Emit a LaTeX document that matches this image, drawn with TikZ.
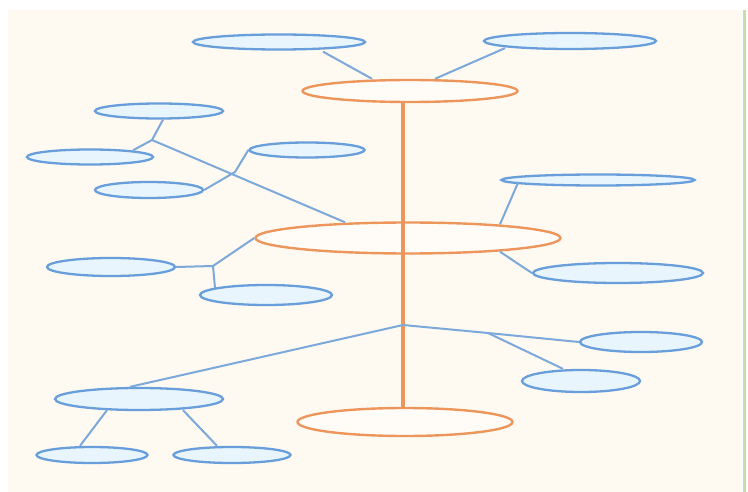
\documentclass[tikz,border=0pt]{standalone}
\usetikzlibrary{shapes.geometric,calc}
\definecolor{cream}{RGB}{254,250,242}
\definecolor{edgegreen}{RGB}{196,224,170}
\definecolor{orng}{RGB}{236,150,92}
\definecolor{ofill}{RGB}{255,252,247}
\definecolor{bline}{RGB}{104,158,218}
\definecolor{bfill}{RGB}{232,245,252}
\definecolor{bconn}{RGB}{124,168,218}
\begin{document}
\begin{tikzpicture}[x=1pt,y=-1pt,
  bnode/.style={ellipse, draw=bline, line width=2.3pt, fill=bfill, inner sep=0pt},
  onode/.style={ellipse, draw=orng, line width=2.4pt, fill=ofill, inner sep=0pt},
  conn/.style={draw=bconn, line width=2pt, line join=round},
  spine/.style={draw=orng, line width=3.6pt}]
\useasboundingbox (0,0) rectangle (748,492);
\fill[white] (0,0) rectangle (748,492);
\fill[cream] (8,10) rectangle (742,492);
\fill[edgegreen] (743,10) rectangle (746,492);

% orange ellipses
\node[onode, minimum width=215, minimum height=22] (O1) at (410,91) {};
\node[onode, minimum width=305, minimum height=31] (O2) at (408,238) {};
\node[onode, minimum width=215, minimum height=28] (O3) at (405,422) {};

% blue ellipses
\node[bnode, minimum width=172, minimum height=15] (B1) at (279,42) {};
\node[bnode, minimum width=172, minimum height=16] (B2) at (570,41) {};
\node[bnode, minimum width=128, minimum height=15] (B3) at (159,111) {};
\node[bnode, minimum width=126, minimum height=15] (B4) at (90,157) {};
\node[bnode, minimum width=115, minimum height=15] (B5) at (307,150) {};
\node[bnode, minimum width=108, minimum height=16] (B6) at (149,190) {};
\node[bnode, minimum width=193, minimum height=11] (B7) at (598,180) {};
\node[bnode, minimum width=128, minimum height=18] (B8) at (111,267) {};
\node[bnode, minimum width=132, minimum height=20] (B9) at (266,295) {};
\node[bnode, minimum width=170, minimum height=20] (B10) at (618,273) {};
\node[bnode, minimum width=122, minimum height=20] (B11) at (641,342) {};
\node[bnode, minimum width=118, minimum height=22] (B12) at (581,381) {};
\node[bnode, minimum width=168, minimum height=22] (B13) at (139,399) {};
\node[bnode, minimum width=111, minimum height=16] (B14) at (92,455) {};
\node[bnode, minimum width=117, minimum height=16] (B15) at (232,455) {};

% junction coordinates
\coordinate (J1) at (152,140);
\coordinate (J2) at (235,172);
\coordinate (J3) at (213,266);
\coordinate (J) at (403,325);
\coordinate (K) at (488,333);

% orange spine
\draw[spine] ($(O1.south)+(-7,0)$) -- ($(O3.north)+(-2,0)$);

% blue connectors
\draw[conn] ($(B1.south)+(44,1)$) -- ($(O1.north)+(-38,0)$);
\draw[conn] ($(B2.south)+(-65,-2)$) -- ($(O1.north)+(25,0)$);
\draw[conn] ($(B3.south)+(4,0)$) -- (J1) -- ($(B4.north)+(43,2)$);
\draw[conn] (J1) -- ($(O2.north)+(-63,1)$);
\draw[conn] (B5.west) -- (J2) -- (B6.east);
\draw[conn] ($(B7.west)+(18,2)$) -- ($(O2.north)+(92,3)$);
\draw[conn] ($(O2.south)+(92,-3)$) -- (B10.west);
\draw[conn] (B8.east) -- (J3) -- (O2.west);
\draw[conn] (J3) -- ($(B9.north)+(-51,4)$);
\draw[conn] (J) -- ($(B13.north)+(-9,0)$);
\draw[conn] (J) -- (K) -- (B11.west);
\draw[conn] (K) -- ($(B12.north)+(-18,0)$);
\draw[conn] ($(B13.south)+(-32,-1)$) -- ($(B14.north)+(-12,0)$);
\draw[conn] ($(B13.south)+(44,-1)$) -- ($(B15.north)+(-15,0)$);
\end{tikzpicture}
\end{document}
